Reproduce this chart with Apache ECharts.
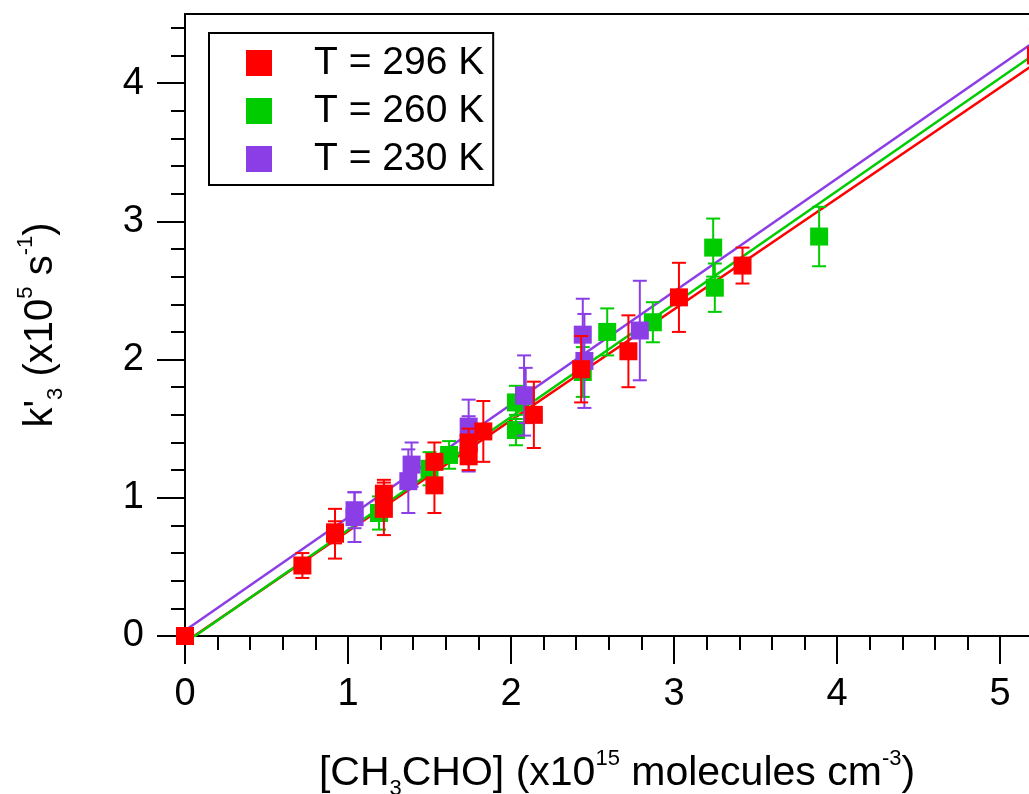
<!DOCTYPE html>
<html>
<head>
<meta charset="utf-8">
<script src="https://cdn.jsdelivr.net/npm/echarts@6/dist/echarts.min.js"></script>
<style>
  html, body { margin: 0; padding: 0; background: #fff; }
  #main { width: 1029px; height: 794px; }
</style>
</head>
<body>
<div id="main"></div>
<script>
var FONT = "'Liberation Sans', Arial, Helvetica, sans-serif";

// T = 296 K
var x296 = [0, 0.72, 0.92, 0.92, 1.22, 1.22, 1.53, 1.53, 1.74, 1.74, 1.83, 2.14, 2.43, 2.72, 3.03, 3.42, 5.22];
var y296 = [0, 0.51, 0.74, 0.75, 1.03, 0.92, 1.26, 1.09, 1.40, 1.30, 1.48, 1.60, 1.93, 2.06, 2.45, 2.68, 4.20];
var e296 = [0, 0.09, 0.18, 0.08, 0.10, 0.19, 0.14, 0.20, 0.10, 0.10, 0.22, 0.24, 0.24, 0.26, 0.25, 0.13, 0.19];

// T = 260 K
var x260 = [1.19, 1.50, 1.62, 2.03, 2.03, 2.44, 2.59, 2.87, 3.24, 3.25, 3.89];
var y260 = [0.89, 1.21, 1.31, 1.69, 1.49, 1.91, 2.20, 2.27, 2.81, 2.52, 2.89];
var e260 = [0.12, 0.12, 0.10, 0.12, 0.11, 0.18, 0.17, 0.145, 0.21, 0.175, 0.215];

// T = 230 K
var x230 = [1.04, 1.04, 1.39, 1.37, 1.74, 1.74, 2.08, 2.09, 2.44, 2.45, 2.79];
var y230 = [0.91, 0.86, 1.24, 1.12, 1.515, 1.39, 1.74, 1.74, 2.18, 1.99, 2.21];
var e230 = [0.13, 0.18, 0.16, 0.23, 0.195, 0.20, 0.29, 0.20, 0.26, 0.34, 0.36];

// fitted lines, end points
var fitX = [0, 5.2];
var fit296 = [-0.045, 4.13];
var fit260 = [-0.05, 4.20];
var fit230 = [0.04, 4.29];

var xMajor = [0, 1, 2, 3, 4, 5];
var yMajor = [0, 1, 2, 3, 4];
var xMinor = [], yMinor = [];
for (var i = 1; i <= 26; i++) { if (i % 5) xMinor.push(i / 5); }
for (var j = 1; j <= 22; j++) { if (j % 5) yMinor.push(j / 5); }

var names = ['T = 296 K', 'T = 260 K', 'T = 230 K'];
var colors = ['#ff0000', '#00cc00', '#8b3de6'];

function zip3(a, b, c) {
  var out = [];
  for (var k = 0; k < a.length; k++) out.push([a[k], b[k], c[k]]);
  return out;
}
function zip2(a, b) {
  var out = [];
  for (var k = 0; k < a.length; k++) out.push([a[k], b[k]]);
  return out;
}

function errBars(params, api) {
  var x = api.value(0), y = api.value(1), e = api.value(2);
  if (!e) return null;
  var top = api.coord([x, y + e]);
  var bot = api.coord([x, y - e]);
  var hw = 7;
  var st = { stroke: api.visual('color'), lineWidth: 2 };
  return {
    type: 'group',
    children: [
      { type: 'line', shape: { x1: top[0], y1: top[1], x2: bot[0], y2: bot[1] }, style: st },
      { type: 'line', shape: { x1: top[0] - hw, y1: top[1], x2: top[0] + hw, y2: top[1] }, style: st },
      { type: 'line', shape: { x1: bot[0] - hw, y1: bot[1], x2: bot[0] + hw, y2: bot[1] }, style: st }
    ]
  };
}

function fitSeries(id, ys, color) {
  return {
    name: id, type: 'line', xAxisIndex: 0, yAxisIndex: 0,
    data: zip2(fitX, ys), symbol: 'none', clip: true,
    lineStyle: { color: color, width: 2.5 }, z: 2
  };
}
function errSeries(id, data, color, z) {
  return {
    name: id, type: 'custom', xAxisIndex: 0, yAxisIndex: 0,
    renderItem: errBars, data: data, itemStyle: { color: color },
    encode: { x: 0, y: 1 }, clip: false, z: z
  };
}
function ptSeries(name, data, color, z) {
  return {
    name: name, type: 'scatter', xAxisIndex: 0, yAxisIndex: 0,
    data: data, symbol: 'rect', symbolSize: 18, clip: false,
    itemStyle: { color: color, opacity: 1 }, z: z
  };
}

var d296 = zip3(x296, y296, e296);
var d260 = zip3(x260, y260, e260);
var d230 = zip3(x230, y230, e230);

var chart = echarts.init(document.getElementById('main'), null, { renderer: 'canvas' });

var lbl = { fontSize: 38, color: '#000', fontFamily: FONT };
var rich = {
  sub: { fontSize: 22, lineHeight: 30, verticalAlign: 'bottom', fontFamily: FONT, color: '#000' },
  sup: { fontSize: 22, lineHeight: 22, verticalAlign: 'top', fontFamily: FONT, color: '#000' }
};

var option = {
  animation: false,
  backgroundColor: '#fff',
  grid: { left: 185, top: 14, right: -20, bottom: 158, containLabel: false, outerBoundsMode: 'none' },
  legend: {
    orient: 'vertical', left: 209, top: 33,
    padding: [10, 9, 6, 37], itemGap: 8,
    itemWidth: 26, itemHeight: 26,
    borderColor: '#000', borderWidth: 2, borderRadius: 0,
    textStyle: { fontSize: 39, color: '#000', fontFamily: FONT, lineHeight: 40, padding: [0, 0, 0, 37] },
    selectedMode: false,
    data: [
      { name: names[0], icon: 'rect', itemStyle: { color: colors[0] } },
      { name: names[1], icon: 'rect', itemStyle: { color: colors[1] } },
      { name: names[2], icon: 'rect', itemStyle: { color: colors[2] } }
    ]
  },
  xAxis: [
    {
      type: 'value', position: 'bottom', min: 0, max: 5.3,
      name: '[CH{sub|3}CHO] (x10{sup|15} molecules cm{sup|-3})',
      nameLocation: 'middle', nameGap: 112,
      nameTextStyle: { fontSize: 41, color: '#000', fontFamily: FONT, lineHeight: 52, rich: rich },
      axisLine: { show: true, onZero: false, lineStyle: { color: '#000', width: 2 } },
      axisTick: { show: true, inside: false, length: 28, customValues: xMajor, lineStyle: { color: '#000', width: 2 } },
      axisLabel: Object.assign({ margin: 40, customValues: xMajor }, lbl),
      splitLine: { show: false }
    },
    {
      type: 'value', position: 'bottom', min: 0, max: 5.3,
      axisLine: { show: false, onZero: false },
      axisTick: { show: true, inside: false, length: 14, customValues: xMinor, lineStyle: { color: '#000', width: 2 } },
      axisLabel: { show: false },
      splitLine: { show: false }
    },
    {
      type: 'value', position: 'top', min: 0, max: 5.3,
      axisLine: { show: true, onZero: false, lineStyle: { color: '#000', width: 2 } },
      axisTick: { show: false },
      axisLabel: { show: false },
      splitLine: { show: false }
    }
  ],
  yAxis: [
    {
      type: 'value', position: 'left', min: 0, max: 4.5,
      name: "k'{sub|3} (x10{sup|5} s{sup|-1})",
      nameLocation: 'middle', nameGap: 118, nameRotate: 90,
      nameTextStyle: { fontSize: 40, color: '#000', fontFamily: FONT, lineHeight: 52, rich: rich },
      axisLine: { show: true, onZero: false, lineStyle: { color: '#000', width: 2 } },
      axisTick: { show: true, inside: false, length: 28, customValues: yMajor, lineStyle: { color: '#000', width: 2 } },
      axisLabel: Object.assign({ margin: 41, customValues: yMajor }, lbl),
      splitLine: { show: false }
    },
    {
      type: 'value', position: 'left', min: 0, max: 4.5,
      axisLine: { show: false, onZero: false },
      axisTick: { show: true, inside: false, length: 14, customValues: yMinor, lineStyle: { color: '#000', width: 2 } },
      axisLabel: { show: false },
      splitLine: { show: false }
    }
  ],
  series: [
    fitSeries('fit296', fit296, colors[0]),
    fitSeries('fit260', fit260, colors[1]),
    fitSeries('fit230', fit230, colors[2]),
    errSeries('err260', d260, colors[1], 3),
    ptSeries(names[1], d260, colors[1], 4),
    errSeries('err230', d230, colors[2], 5),
    ptSeries(names[2], d230, colors[2], 6),
    errSeries('err296', d296, colors[0], 7),
    ptSeries(names[0], d296, colors[0], 8)
  ]
};

chart.setOption(option);
</script>
</body>
</html>
